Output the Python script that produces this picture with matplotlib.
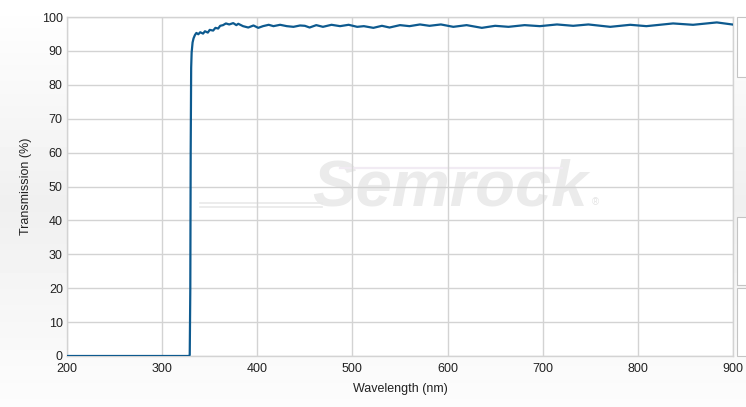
import matplotlib
matplotlib.use("Agg")
import matplotlib.pyplot as plt
import numpy as np
from matplotlib.patches import Rectangle

# transmission curve (nm, %)
wavelength = [200, 328, 329, 329.6, 330.0, 330.5, 331, 332, 333, 334.5, 336, 338, 340,
              343, 345, 348, 350, 353.6, 356, 358.9, 361, 364, 367, 370.5, 374.7, 378,
              380, 385, 390.5, 396, 401, 406, 412,
              417, 424, 431, 438, 445, 450, 455, 462, 469, 478, 487, 496, 505, 512,
              522, 531, 539, 550, 560, 571, 581, 593, 606, 620, 636, 650, 664, 681,
              697, 715, 732, 748, 771, 792, 809, 837, 858, 883, 899]
transmission = [0, 0, 0.3, 20, 60, 85, 89.5, 92.5, 93.7, 94.7, 95.3, 94.9, 95.5,
                95.1, 95.8, 95.4, 96.2, 96.0, 96.8, 96.6, 97.4, 97.6, 98.1, 97.8, 98.2, 97.6,
                98.0, 97.3, 96.9, 97.5, 96.8, 97.3, 97.7,
                97.3, 97.7, 97.3, 97.1, 97.5, 97.4, 96.9, 97.6, 97.1, 97.7, 97.3, 97.7,
                97.1, 97.3, 96.8, 97.4, 96.9, 97.6, 97.3, 97.8, 97.4, 97.8, 97.1, 97.6,
                96.8, 97.4, 97.1, 97.6, 97.3, 97.8, 97.4, 97.8, 97.1, 97.7, 97.3, 98.1,
                97.7, 98.4, 97.8]
x_ticks = [200, 300, 400, 500, 600, 700, 800, 900]
y_ticks = [0, 10, 20, 30, 40, 50, 60, 70, 80, 90, 100]

LINE_COLOR = "#0d5a8f"
GRID_COLOR = "#d3d3d3"
TEXT_COLOR = "#222222"

plt.rcParams["font.family"] = ["Liberation Sans", "DejaVu Sans"]

fig = plt.figure(figsize=(7.46, 4.07), dpi=100)

# soft grey background gradient behind everything
bg = fig.add_axes([0, 0, 1, 1], zorder=-10)
grad = np.concatenate([np.linspace(1.0, 0.94, 50), np.linspace(0.94, 0.99, 50)])
bg.imshow(grad[:, None], aspect="auto", cmap="gray", vmin=0, vmax=1,
          extent=[0, 1, 0, 1])
bg.set_axis_off()

# side panel boxes on the right edge
for top, h in [(17, 60), (217, 68), (288, 68)]:
    fig.patches.append(Rectangle((737 / 746, 1 - (top + h) / 407), 0.02, h / 407,
                                 transform=fig.transFigure, facecolor="white",
                                 edgecolor="#c4c4c4", lw=0.8))

ax = fig.add_axes([67 / 746, 51 / 407, 666 / 746, 339 / 407])
ax.set_facecolor("white")

# watermark
ax.text(603, 49.5, "Semrock", fontsize=47, fontweight="bold", fontstyle="italic",
        color="#ebebeb", ha="center", va="center", zorder=1)
ax.text(755, 45.3, "®", fontsize=7, color="#e4e4e4", ha="center", va="center", zorder=1)
for yy in [44.0, 45.1]:
    ax.plot([340, 468], [yy, yy], color="#e9e9e9", lw=1.2, zorder=1)
ax.plot([487, 720], [55.6, 55.6], color="#f1ebf3", lw=1.6, zorder=1)

ax.plot(wavelength, transmission, color=LINE_COLOR, lw=1.6, zorder=3)

ax.set_xlim(200, 900)
ax.set_ylim(0, 100)
ax.set_xticks(x_ticks)
ax.set_yticks(y_ticks)
ax.grid(True, color=GRID_COLOR, lw=1, zorder=0)
for side in ["left", "bottom", "top", "right"]:
    ax.spines[side].set_color(GRID_COLOR)
    ax.spines[side].set_linewidth(1)
ax.tick_params(length=0, labelsize=9, colors=TEXT_COLOR)
ax.tick_params(axis="y", pad=3)
ax.tick_params(axis="x", pad=5)

ax.set_xlabel("Wavelength (nm)", fontsize=9, color=TEXT_COLOR, labelpad=6)
ax.set_ylabel("Transmission (%)", fontsize=9, color=TEXT_COLOR, labelpad=7)

plt.savefig("out.png", dpi=100)
plt.close()
